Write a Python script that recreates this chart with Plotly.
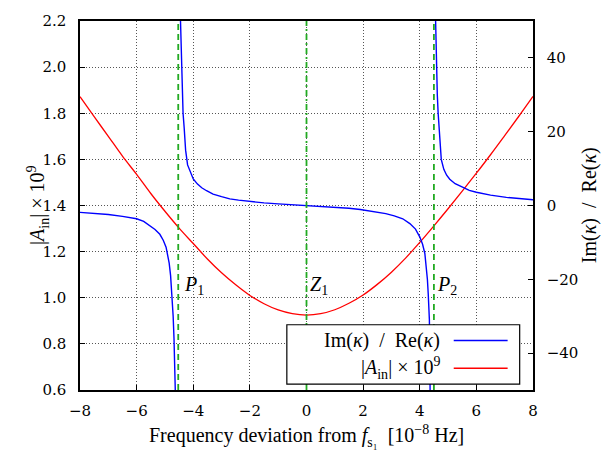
import plotly.graph_objects as go

# ---------------- data ----------------
# Im(kappa)/Re(kappa), three branches separated by the poles
blue_x1 = [-8.0, -7.5, -7.0, -6.5, -6.0, -5.75, -5.53, -5.35, -5.18, -5.06, -4.96, -4.9,
           -4.85, -4.8, -4.75, -4.71, -4.68, -4.655, -4.635]
blue_y1 = [-1.85, -2.1, -2.45, -2.95, -3.6, -4.3, -5.4, -6.5, -7.8, -9.4, -11.3, -13.2,
           -15.6, -19.0, -24.6, -30.0, -36.0, -43.0, -50.0]

blue_x2 = [-4.45, -4.42, -4.39, -4.36, -4.32, -4.27, -4.2, -4.1, -4.0, -3.85, -3.7, -3.53,
           -3.3, -3.0, -2.71, -2.4, -2.0, -1.5, -1.0, -0.5, 0.0, 0.5, 1.0, 1.5, 1.9, 2.4,
           2.8, 3.1, 3.4, 3.65, 3.85, 4.0, 4.1, 4.18, 4.23, 4.27, 4.3, 4.32, 4.34, 4.355, 4.365]
blue_y2 = [50.0, 40.0, 32.0, 25.0, 21.0, 15.0, 11.0, 8.9, 7.2, 5.8, 4.8, 4.0,
           3.1, 2.4, 1.8, 1.45, 1.05, 0.7, 0.45, 0.22, 0.0, -0.22, -0.45, -0.75, -1.1, -1.6,
           -2.2, -2.8, -3.6, -4.9, -6.4, -8.5, -10.5, -13.0, -16.0, -20.0, -24.0, -27.0, -31.0, -40.0, -50.0]

blue_x3 = [4.56, 4.575, 4.59, 4.62, 4.65, 4.7, 4.76, 4.85, 4.95, 5.06, 5.25, 5.53, 5.75,
           6.0, 6.5, 7.06, 7.5, 8.0]
blue_y3 = [50.0, 43.0, 37.5, 30.0, 25.0, 18.0, 12.5, 9.8, 8.2, 7.1, 5.9, 4.9, 4.1,
           3.6, 2.8, 2.2, 1.9, 1.55]

# |A_in| x 1e9
red_x = [-8, -7.5, -7, -6.5, -6, -5.5, -5, -4.5, -4, -3.5, -3, -2.5, -2, -1.5, -1, -0.5, 0,
         0.5, 1, 1.5, 2, 2.5, 3, 3.5, 4, 4.5, 5, 5.5, 6, 6.5, 7, 7.5, 8]
red_y = [1.872, 1.785, 1.70, 1.614, 1.535, 1.452, 1.375, 1.302, 1.235, 1.168, 1.108, 1.056,
         1.010, 0.974, 0.947, 0.931, 0.925, 0.931, 0.948, 0.976, 1.012, 1.058, 1.111, 1.172,
         1.240, 1.312, 1.386, 1.462, 1.540, 1.620, 1.703, 1.787, 1.873]

pole_x = [-4.53, 4.50]
zero_x = [0.0]
marker_labels = ["<i>P</i><sub>1</sub>", "<i>Z</i><sub>1</sub>", "<i>P</i><sub>2</sub>"]
marker_label_x = [-4.4, 0.05, 4.55]
marker_label_y = [1.054, 1.054, 1.054]

x_ticks = [-8, -6, -4, -2, 0, 2, 4, 6, 8]
y_ticks = [0.6, 0.8, 1.0, 1.2, 1.4, 1.6, 1.8, 2.0, 2.2]
y2_ticks = [-40, -20, 0, 20, 40]

legend_labels = ["Im(<i>κ</i>)  /  Re(<i>κ</i>)", "|<i>A</i><sub>in</sub>| × 10<sup>9</sup>"]

# ---------------- styles ----------------
FONT = "Liberation Serif"
TICK_FONT_FAMILY = "DejaVu Serif"
BLUE = "#0000ff"
RED = "#ff0000"
GREEN = "#22aa22"

fig = go.Figure()

blue_x = blue_x1 + [None] + blue_x2 + [None] + blue_x3
blue_y = blue_y1 + [None] + blue_y2 + [None] + blue_y3

fig.add_trace(go.Scatter(x=red_x, y=red_y, mode="lines", line=dict(color=RED, width=1.3, shape="spline"),
                         showlegend=False, yaxis="y"))
fig.add_trace(go.Scatter(x=blue_x, y=blue_y, mode="lines", line=dict(color=BLUE, width=1.4),
                         connectgaps=False, showlegend=False, yaxis="y2"))

shapes = []
for px in pole_x:
    shapes.append(dict(type="line", xref="x", yref="paper", x0=px, x1=px, y0=0, y1=1,
                       line=dict(color=GREEN, width=1.8, dash="6px,4px"), layer="above"))
for zx in zero_x:
    shapes.append(dict(type="line", xref="x", yref="paper", x0=zx, x1=zx, y0=0, y1=1,
                       line=dict(color=GREEN, width=1.8, dash="6px,3px,2px,3px"), layer="above"))

# custom legend box (samples on the right like the original)
shapes.append(dict(type="rect", xref="paper", yref="paper", x0=0.4566, x1=0.9706, y0=0.0161, y1=0.1768,
                   line=dict(color="black", width=1.2), fillcolor="white", layer="above"))
legend_rows_y = [0.134, 0.059]
legend_colors = [BLUE, RED]
annotations = []
for lab, ly, col in zip(legend_labels, legend_rows_y, legend_colors):
    shapes.append(dict(type="line", xref="paper", yref="paper", x0=0.825, x1=0.944, y0=ly, y1=ly,
                       line=dict(color=col, width=1.5), layer="above"))
    annotations.append(dict(xref="paper", yref="paper", x=0.7985, y=ly, text=lab, showarrow=False,
                            xanchor="right", yanchor="middle", font=dict(family=FONT, size=20, color="black")))

for t, mx, my in zip(marker_labels, marker_label_x, marker_label_y):
    annotations.append(dict(xref="x", yref="y", x=mx, y=my, text=t, showarrow=False,
                            xanchor="left", yanchor="middle", font=dict(family=FONT, size=20, color="black")))

# axis titles
annotations.append(dict(xref="paper", yref="paper", x=-0.094, y=0.5, textangle=-90,
                        text="|<i>A</i><sub>in</sub>| × 10<sup>9</sup>", showarrow=False,
                        xanchor="center", yanchor="middle", font=dict(family=FONT, size=20, color="black")))
annotations.append(dict(xref="paper", yref="paper", x=1.125, y=0.5, textangle=-90,
                        text="Im(<i>κ</i>)  /  Re(<i>κ</i>)", showarrow=False,
                        xanchor="center", yanchor="middle", font=dict(family=FONT, size=20, color="black")))
annotations.append(dict(xref="paper", yref="paper", x=0.5, y=-0.124,
                        text="Frequency deviation from <i>f</i><sub>s₁</sub>  [10<sup>−8</sup> Hz]",
                        showarrow=False, xanchor="center", yanchor="middle",
                        font=dict(family=FONT, size=20, color="black")))

axis_common = dict(showline=True, linecolor="black", linewidth=1.5, ticks="inside", ticklen=5,
                   tickcolor="black", zeroline=False)
tick_font = dict(family=TICK_FONT_FAMILY, size=15, color="black")

fig.update_layout(
    width=605, height=450,
    margin=dict(l=80, r=72, t=17, b=60),
    paper_bgcolor="white", plot_bgcolor="white",
    font=dict(family=FONT, color="black"),
    shapes=shapes, annotations=annotations,
    xaxis=dict(range=[-8, 8], tickvals=x_ticks, showgrid=True, gridcolor="#555", griddash="1px,2px",
               gridwidth=1, mirror=True, ticklabelstandoff=6, tickfont=tick_font, **axis_common),
    yaxis=dict(range=[0.6, 2.2], tickvals=y_ticks, tickformat=".1f", showgrid=True, gridcolor="#555",
               griddash="1px,2px", gridwidth=1, mirror=True, ticklabelstandoff=9, tickfont=tick_font,
               **axis_common),
    yaxis2=dict(range=[-50, 50], tickvals=y2_ticks, overlaying="y", side="right", showgrid=False,
                ticklabelstandoff=9, tickfont=tick_font, **axis_common),
    showlegend=False,
)

fig.write_html("out.html")
